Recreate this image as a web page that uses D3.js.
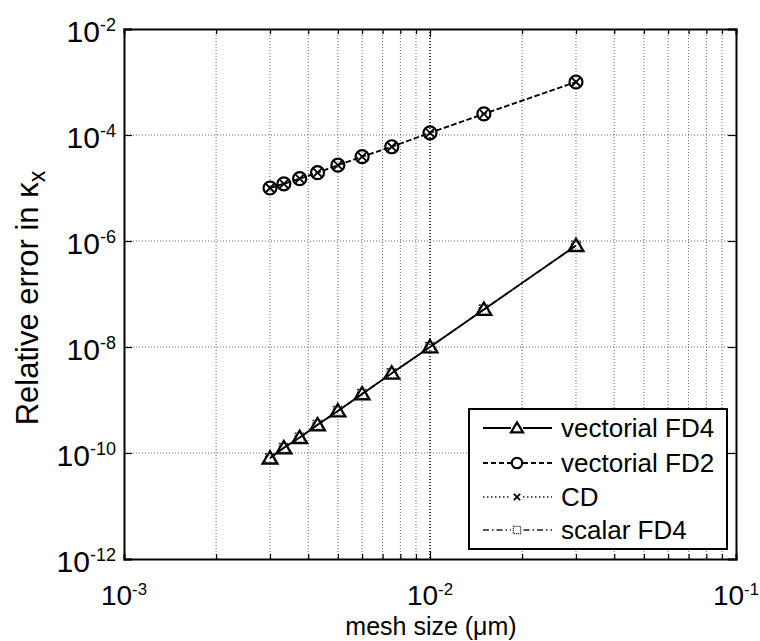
<!DOCTYPE html>
<html>
<head>
<meta charset="utf-8">
<script src="https://cdn.jsdelivr.net/npm/d3@7"></script>
<style>
  body { margin: 0; background: #fff; }
  svg { display: block; font-family: "Liberation Sans", Arial, sans-serif; }
</style>
</head>
<body>
<div id="chart"></div>
<script>
// mesh sizes (um) and relative errors for each scheme
const meshSize = [0.003, 0.00333, 0.00375, 0.00429, 0.005, 0.006, 0.0075, 0.01, 0.015, 0.03];
const vectorialFD4 = [8.0e-11, 1.25e-10, 1.95e-10, 3.4e-10, 6.2e-10, 1.3e-9, 3.2e-9, 1.0e-8, 5.1e-8, 8.2e-7];
const vectorialFD2 = [1.0e-5, 1.2e-5, 1.5e-5, 1.95e-5, 2.7e-5, 3.9e-5, 6.0e-5, 1.1e-4, 2.5e-4, 1.0e-3];
const cdError = [1.0e-5, 1.2e-5, 1.5e-5, 1.95e-5, 2.7e-5, 3.9e-5, 6.0e-5, 1.1e-4, 2.5e-4, 1.0e-3];
const scalarFD4 = [8.0e-11, 1.25e-10, 1.95e-10, 3.4e-10, 6.2e-10, 1.3e-9, 3.2e-9, 1.0e-8, 5.1e-8, 8.2e-7];

const xTicks = [1e-3, 1e-2, 1e-1];
const yTicks = [1e-12, 1e-10, 1e-8, 1e-6, 1e-4, 1e-2];
const legendNames = ["vectorial FD4", "vectorial FD2", "CD", "scalar FD4"];

var width = 760, height = 641;
var plotL = 124, plotT = 29, plotR = 736, plotB = 559;

var svg = d3.select("#chart").append("svg")
  .attr("width", width)
  .attr("height", height);

var x = d3.scaleLog().domain([1e-3, 1e-1]).range([plotL, plotR]);
var y = d3.scaleLog().domain([1e-12, 1e-2]).range([plotB, plotT]);

// minor x positions 1..9 in each decade
var xMinor = [];
[1e-3, 1e-2].forEach(function (d) {
  for (var k = 1; k <= 9; k++) xMinor.push(k * d);
});
xMinor.push(1e-1);

function isMajor(v) {
  return xTicks.some(function (t) { return Math.abs(t - v) / t < 1e-6; });
}

// grid
var grid = svg.append("g");
grid.selectAll("line.vx")
  .data(xMinor.filter(function (v) { return v > 1.5e-3 && v < 0.095; }))
  .enter().append("line")
  .attr("x1", function (d) { return x(d); })
  .attr("x2", function (d) { return x(d); })
  .attr("y1", plotT).attr("y2", plotB)
  .attr("stroke", function (d) { return isMajor(d) ? "#111" : "#666"; })
  .attr("stroke-width", function (d) { return isMajor(d) ? 1.6 : 1; })
  .attr("stroke-dasharray", "1,2");
grid.selectAll("line.hy")
  .data(yTicks.slice(1, -1))
  .enter().append("line")
  .attr("x1", plotL).attr("x2", plotR)
  .attr("y1", function (d) { return y(d); })
  .attr("y2", function (d) { return y(d); })
  .attr("stroke", "#666")
  .attr("stroke-dasharray", "1,2");

// axes, ticks pointing inward
function pow10(sel) {
  sel.each(function (d) {
    var t = d3.select(this).text(null);
    t.append("tspan").text("10");
    t.append("tspan").attr("dy", "-0.62em").attr("font-size", "0.6em")
      .text(Math.round(Math.log10(d)));
  });
}

var xAxis = svg.append("g").attr("transform", "translate(0," + plotB + ")")
  .call(d3.axisBottom(x).tickValues(xMinor).tickSize(-5).tickFormat(""));
var xTop = svg.append("g").attr("transform", "translate(0," + plotT + ")")
  .call(d3.axisTop(x).tickValues(xMinor).tickSize(-5).tickFormat(""));
xAxis.selectAll(".tick line").attr("y2", function (d) { return isMajor(d) ? -8 : -5; });
xTop.selectAll(".tick line").attr("y2", function (d) { return isMajor(d) ? 8 : 5; });

var yAxis = svg.append("g").attr("transform", "translate(" + plotL + ",0)")
  .call(d3.axisLeft(y).tickValues(yTicks).tickSize(-8).tickFormat(""));
var yRight = svg.append("g").attr("transform", "translate(" + plotR + ",0)")
  .call(d3.axisRight(y).tickValues(yTicks).tickSize(-8).tickFormat(""));

[xAxis, xTop, yAxis, yRight].forEach(function (a) {
  a.select(".domain").attr("stroke", "#000").attr("stroke-width", 2);
  a.selectAll(".tick line").attr("stroke", "#000").attr("stroke-width", 1.2);
});

svg.append("g").selectAll("text")
  .data(xTicks).enter().append("text")
  .attr("x", function (d) { return x(d); })
  .attr("y", plotB + 46)
  .attr("text-anchor", "middle")
  .attr("font-size", 28)
  .call(pow10);

svg.append("g").selectAll("text")
  .data(yTicks).enter().append("text")
  .attr("x", plotL - 8)
  .attr("y", function (d) { return y(d) + 13; })
  .attr("text-anchor", "end")
  .attr("font-size", 30)
  .call(pow10);

svg.append("text")
  .attr("x", (plotL + plotR) / 2 + 1)
  .attr("y", 635)
  .attr("text-anchor", "middle")
  .attr("font-size", 25)
  .text("mesh size (\u03bcm)");

var yl = svg.append("text")
  .attr("transform", "translate(38," + 298 + ") rotate(-90)")
  .attr("text-anchor", "middle")
  .attr("font-size", 31);
yl.append("tspan").text("Relative error in \u03ba");
yl.append("tspan").attr("dy", "0.3em").attr("font-size", "0.75em").text("x");

// series
var line = d3.line()
  .x(function (d) { return x(d[0]); })
  .y(function (d) { return y(d[1]); });

function pairs(vals) {
  return meshSize.map(function (m, i) { return [m, vals[i]]; });
}

var triangle = "M0,-7L7.5,5.5L-7.5,5.5Z";
var cross = "M-4,-4L4,4M4,-4L-4,4";
var square = "M-4.5,-4.5H4.5V4.5H-4.5Z";

var series = [
  { vals: scalarFD4, dash: "6,3,1.5,3", marker: "square", stroke: "#444" },
  { vals: vectorialFD4, dash: null, marker: "triangle", stroke: "#000" },
  { vals: cdError, dash: "1.5,2.5", marker: "cross", stroke: "#444" },
  { vals: vectorialFD2, dash: "5,3", marker: "circle", stroke: "#000" }
];

function drawMarker(g, kind, size) {
  var s = size || 1;
  if (kind === "circle") {
    g.append("circle").attr("r", 6.5 * s).attr("fill", "none")
      .attr("stroke", "#000").attr("stroke-width", 2.2);
  } else if (kind === "triangle") {
    g.append("path").attr("d", triangle).attr("transform", "scale(" + s + ")")
      .attr("fill", "none").attr("stroke", "#000").attr("stroke-width", 2.2 / s);
  } else if (kind === "cross") {
    g.append("path").attr("d", cross).attr("transform", "scale(" + s + ")")
      .attr("fill", "none").attr("stroke", "#000").attr("stroke-width", 1.8 / s);
  } else {
    g.append("path").attr("d", square).attr("transform", "scale(" + s + ")")
      .attr("fill", "none").attr("stroke", "#333").attr("stroke-width", 1.3 / s)
      .attr("stroke-dasharray", "1.5,1");
  }
}

series.forEach(function (sr) {
  var pts = pairs(sr.vals);
  svg.append("path")
    .datum(pts)
    .attr("d", line)
    .attr("fill", "none")
    .attr("stroke", sr.stroke)
    .attr("stroke-width", 1.8)
    .attr("stroke-dasharray", sr.dash);
  svg.append("g").selectAll("g")
    .data(pts).enter().append("g")
    .attr("transform", function (d) { return "translate(" + x(d[0]) + "," + y(d[1]) + ")"; })
    .each(function () { drawMarker(d3.select(this), sr.marker, 1); });
});

// legend
var lg = svg.append("g");
lg.append("rect")
  .attr("x", 469).attr("y", 409)
  .attr("width", 258).attr("height", 140)
  .attr("fill", "#fff").attr("stroke", "#000").attr("stroke-width", 2);

var legendStyle = [
  { dash: null, marker: "triangle", stroke: "#000" },
  { dash: "5,3", marker: "circle", stroke: "#000" },
  { dash: "1.5,2.5", marker: "cross", stroke: "#555" },
  { dash: "6,3,1.5,3", marker: "square", stroke: "#555" }
];
var rowY = [428, 463, 497, 530];

legendNames.forEach(function (name, i) {
  var st = legendStyle[i];
  lg.append("line")
    .attr("x1", 483).attr("x2", 552)
    .attr("y1", rowY[i]).attr("y2", rowY[i])
    .attr("stroke", st.stroke).attr("stroke-width", 1.8)
    .attr("stroke-dasharray", st.dash);
  var m = lg.append("g").attr("transform", "translate(517," + rowY[i] + ")");
  m.append("rect").attr("x", -6).attr("y", -6).attr("width", 12).attr("height", 12).attr("fill", "#fff");
  drawMarker(m, st.marker, 0.8);
  lg.append("text")
    .attr("x", 561).attr("y", rowY[i] + 9)
    .attr("font-size", 26)
    .text(name);
});
</script>
</body>
</html>
